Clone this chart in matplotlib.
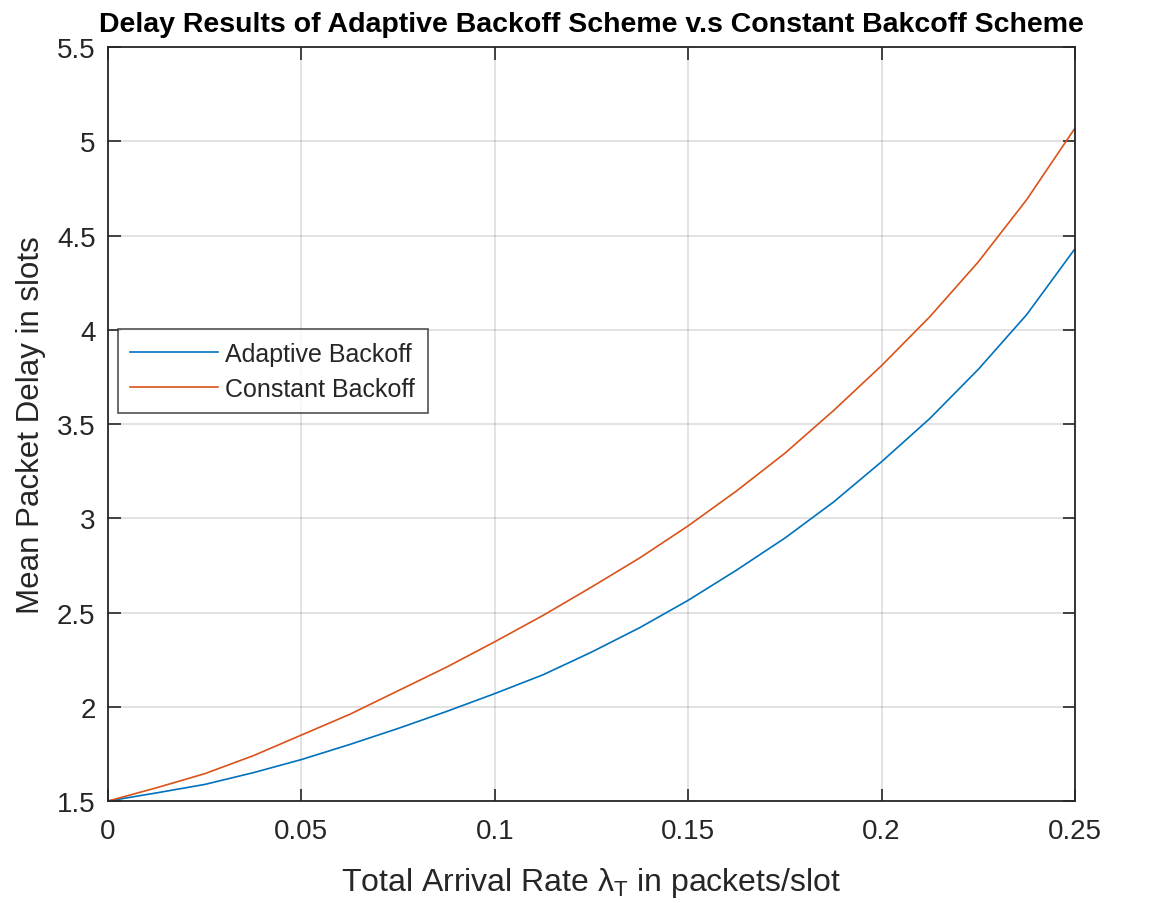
import matplotlib
matplotlib.use('Agg')
import matplotlib.pyplot as plt

# arrival rate (packets/slot) and mean delay (slots)
rate = [0, 0.0125, 0.025, 0.0375, 0.05, 0.0625, 0.075, 0.0875, 0.1, 0.1125, 0.125,
        0.1375, 0.15, 0.1625, 0.175, 0.1875, 0.2, 0.2125, 0.225, 0.2375, 0.25]
adaptive = [1.5, 1.543, 1.588, 1.65, 1.72, 1.80, 1.885, 1.975, 2.07, 2.17, 2.29,
            2.42, 2.565, 2.725, 2.895, 3.085, 3.30, 3.53, 3.79, 4.08, 4.43]
constant = [1.5, 1.57, 1.645, 1.74, 1.85, 1.96, 2.085, 2.21, 2.345, 2.485, 2.635,
            2.79, 2.96, 3.145, 3.345, 3.57, 3.81, 4.07, 4.36, 4.69, 5.07]

x_ticks = [0, 0.05, 0.1, 0.15, 0.2, 0.25]
x_labels = ['0', '0.05', '0.1', '0.15', '0.2', '0.25']
y_ticks = [1.5, 2, 2.5, 3, 3.5, 4, 4.5, 5, 5.5]
y_labels = ['1.5', '2', '2.5', '3', '3.5', '4', '4.5', '5', '5.5']

plt.rcParams['font.family'] = ['Liberation Sans', 'DejaVu Sans']
plt.rcParams['mathtext.fontset'] = 'custom'
plt.rcParams['mathtext.rm'] = 'Liberation Sans'
plt.rcParams['mathtext.it'] = 'Liberation Sans'

axcol = '#262626'
fig = plt.figure(figsize=(11.69, 9.04), dpi=100)
ax = fig.add_axes([0.0924, 0.1128, 0.8272, 0.8341])

ax.plot(rate, adaptive, color='#0072BD', lw=1.2, label='Adaptive Backoff')
ax.plot(rate, constant, color='#D95319', lw=1.2, label='Constant Backoff')

ax.set_xlim(0, 0.25)
ax.set_ylim(1.5, 5.5)
ax.set_xticks(x_ticks)
ax.set_xticklabels(x_labels)
ax.set_yticks(y_ticks)
ax.set_yticklabels(y_labels)
ax.tick_params(direction='in', top=True, right=True, length=9, width=1.2,
               colors=axcol, labelsize=20)
ax.tick_params(axis='x', pad=12)
ax.tick_params(axis='y', pad=9)
for s in ax.spines.values():
    s.set_color(axcol)
    s.set_linewidth(1.3)
ax.grid(True, color='#262626', alpha=0.15, lw=1.2)

ax.set_xlabel(r'Total Arrival Rate $\lambda_{\mathrm{T}}$ in packets/slot',
              fontsize=23, color=axcol, labelpad=15)
ax.set_ylabel('Mean Packet Delay in slots', fontsize=22.5, color=axcol, labelpad=8)
ax.set_title('Delay Results of Adaptive Backoff Scheme v.s Constant Bakcoff Scheme',
             fontsize=20.5, fontweight='bold', pad=11.5)

leg = ax.legend(loc='upper left', bbox_to_anchor=(0.0103, 0.626), fontsize=18,
                frameon=True, fancybox=False, edgecolor=axcol, handlelength=3.5,
                borderpad=0.5, labelspacing=0.45, handletextpad=0.3,
                borderaxespad=0)
leg.get_frame().set_linewidth(1.2)
for t in leg.get_texts():
    t.set_color(axcol)

fig.savefig('out.png', dpi=100)
